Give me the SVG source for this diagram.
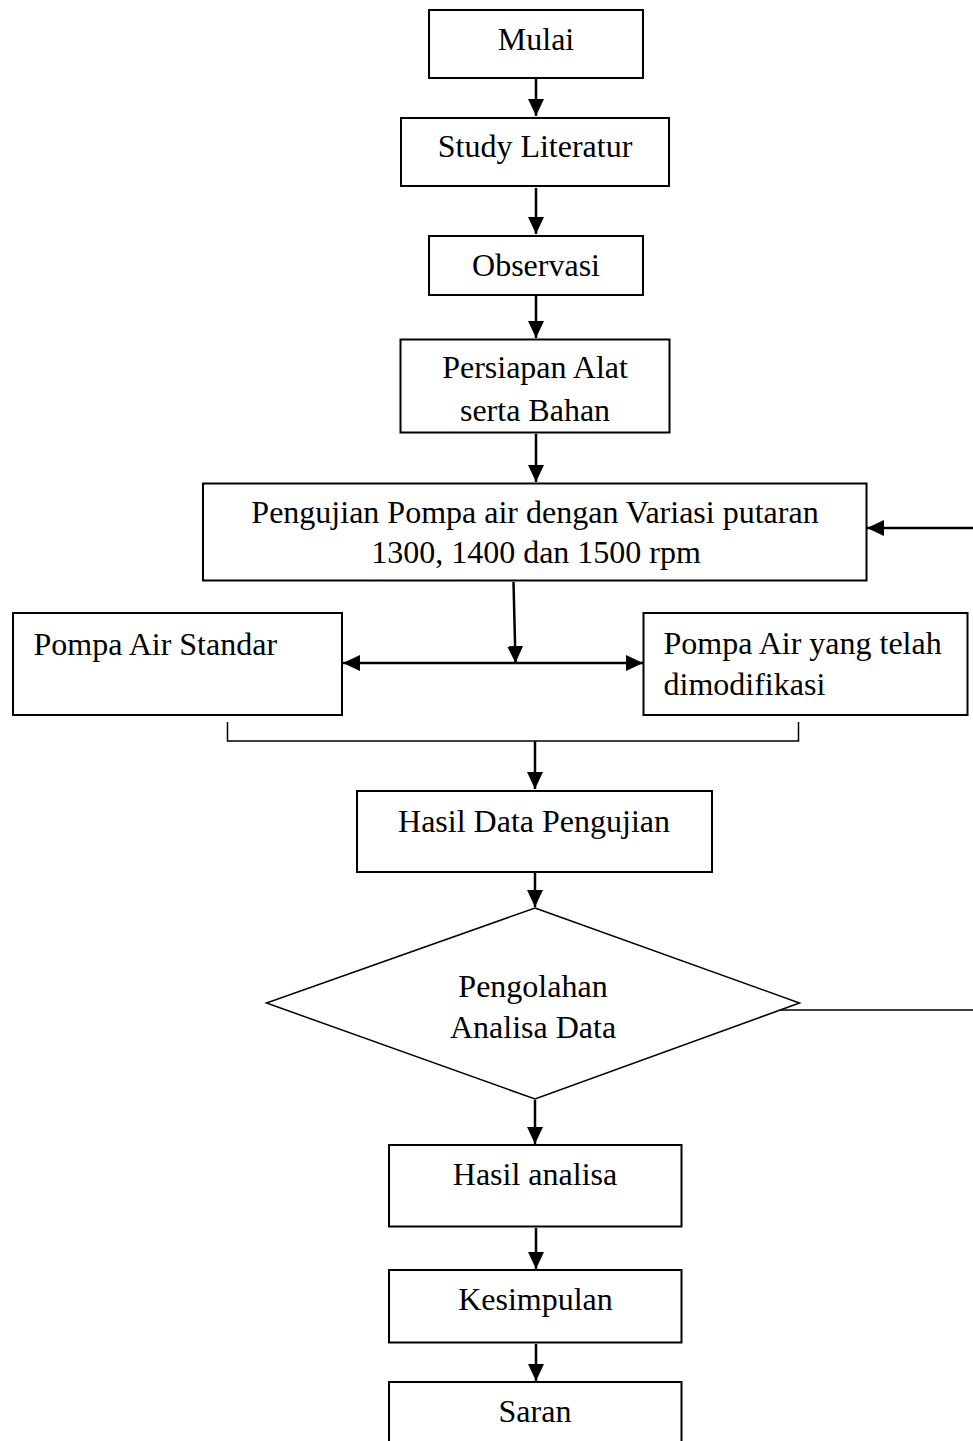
<svg xmlns="http://www.w3.org/2000/svg" width="973" height="1441" viewBox="0 0 973 1441">
<defs>
<style>
.box{fill:#fff;stroke:#000;stroke-width:2}
.t{font-family:"Liberation Serif","Times New Roman",serif;font-size:32px;fill:#000}
.c{text-anchor:middle}
.ln{fill:none;stroke:#000;stroke-width:2.5}
.th{fill:none;stroke:#000;stroke-width:1.5}
</style>
<marker id="ah" markerUnits="userSpaceOnUse" markerWidth="18" markerHeight="16" refX="17" refY="8" orient="auto">
<path d="M0,0 L17,8 L0,16 z" fill="#000"/>
</marker>
</defs>
<rect width="973" height="1441" fill="#fff"/>
<g id="connectors">
<line class="ln" x1="536" y1="79" x2="536" y2="116" marker-end="url(#ah)"/>
<line class="ln" x1="536" y1="188" x2="536" y2="234" marker-end="url(#ah)"/>
<line class="ln" x1="536" y1="296" x2="536" y2="338" marker-end="url(#ah)"/>
<line class="ln" x1="536" y1="434" x2="536" y2="482" marker-end="url(#ah)"/>
<line class="ln" x1="973" y1="528" x2="867" y2="528" marker-end="url(#ah)"/>
<line class="ln" x1="513.5" y1="582" x2="515.5" y2="663" marker-end="url(#ah)"/>
<line class="ln" x1="515" y1="663" x2="343" y2="663" marker-end="url(#ah)"/>
<line class="ln" x1="515" y1="663" x2="643" y2="663" marker-end="url(#ah)"/>
<path class="th" d="M227.5,722 V741 H798.5 V722"/>
<line class="ln" x1="535" y1="741" x2="535" y2="789" marker-end="url(#ah)"/>
<line class="ln" x1="535" y1="873" x2="535" y2="907" marker-end="url(#ah)"/>
<line class="th" x1="779" y1="1010" x2="973" y2="1010"/>
<line class="ln" x1="535" y1="1100" x2="535" y2="1144" marker-end="url(#ah)"/>
<line class="ln" x1="536" y1="1228" x2="536" y2="1269" marker-end="url(#ah)"/>
<line class="ln" x1="536" y1="1344" x2="536" y2="1381" marker-end="url(#ah)"/>
</g>
<g id="mulai">
<rect class="box" x="429" y="10" width="214" height="68"/>
<text class="t c" x="536" y="50">Mulai</text>
</g>
<g id="study">
<rect class="box" x="401" y="118" width="268" height="68"/>
<text class="t c" x="535" y="157">Study Literatur</text>
</g>
<g id="observasi">
<rect class="box" x="429" y="236" width="214" height="59"/>
<text class="t c" x="536" y="276">Observasi</text>
</g>
<g id="persiapan">
<rect class="box" x="400.5" y="339.5" width="269" height="93"/>
<text class="t c" x="535" y="378">Persiapan Alat</text>
<text class="t c" x="535" y="420.5">serta Bahan</text>
</g>
<g id="pengujian">
<rect class="box" x="203" y="483.5" width="663.5" height="97"/>
<text class="t c" x="535" y="522.5">Pengujian Pompa air dengan Variasi putaran</text>
<text class="t c" x="536" y="563">1300, 1400 dan 1500 rpm</text>
</g>
<g id="standar">
<rect class="box" x="13" y="613" width="329" height="102"/>
<text class="t" x="33.5" y="655">Pompa Air Standar</text>
</g>
<g id="modifikasi">
<rect class="box" x="643.5" y="613" width="324" height="102"/>
<text class="t" x="663.5" y="653.5">Pompa Air yang telah</text>
<text class="t" x="663.5" y="695">dimodifikasi</text>
</g>
<g id="hasil-data">
<rect class="box" x="357" y="791" width="355" height="81"/>
<text class="t c" x="534" y="831.5">Hasil Data Pengujian</text>
</g>
<g id="pengolahan">
<polygon class="box" points="535,908 799.5,1003 535,1099 266.5,1003" style="stroke-width:1.5"/>
<text class="t c" x="533" y="996.5">Pengolahan</text>
<text class="t c" x="533" y="1038">Analisa Data</text>
</g>
<g id="hasil-analisa">
<rect class="box" x="389" y="1145" width="292.5" height="81.5"/>
<text class="t c" x="535" y="1185">Hasil analisa</text>
</g>
<g id="kesimpulan">
<rect class="box" x="389" y="1270" width="292.5" height="72.5"/>
<text class="t c" x="535.5" y="1310">Kesimpulan</text>
</g>
<g id="saran">
<rect class="box" x="389" y="1382" width="292.5" height="80"/>
<text class="t c" x="535" y="1421.5">Saran</text>
</g>
</svg>
